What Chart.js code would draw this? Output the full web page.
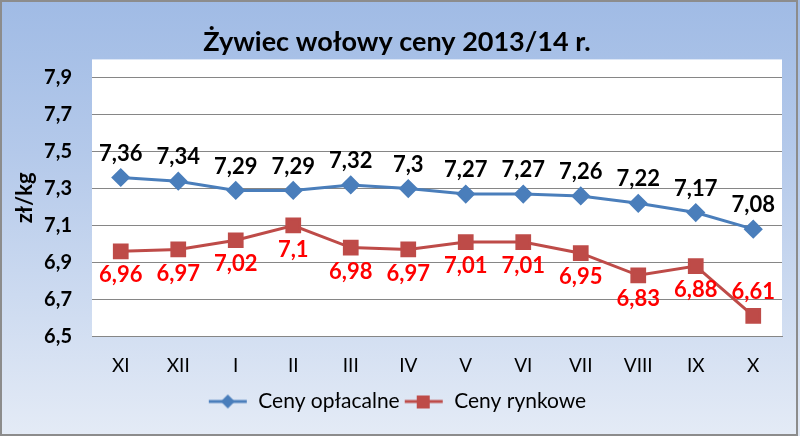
<!DOCTYPE html>
<html>
<head>
<meta charset="utf-8">
<script src="https://cdn.jsdelivr.net/npm/chart.js@4/dist/chart.umd.min.js"></script>
<style>
  body { margin: 0; }
  #wrap { width: 800px; height: 436px; }
</style>
</head>
<body>
<div id="wrap"><canvas id="myChart"></canvas></div>
<script>
// months of the 2013/14 season
const months = ['XI', 'XII', 'I', 'II', 'III', 'IV', 'V', 'VI', 'VII', 'VIII', 'IX', 'X'];
const cenyOplacalne = [7.36, 7.34, 7.29, 7.29, 7.32, 7.3, 7.27, 7.27, 7.26, 7.22, 7.17, 7.08];
const cenyRynkowe = [6.96, 6.97, 7.02, 7.1, 6.98, 6.97, 7.01, 7.01, 6.95, 6.83, 6.88, 6.61];
const yTicks = [6.5, 6.7, 6.9, 7.1, 7.3, 7.5, 7.7, 7.9];

const FONT = 'Lato, "Open Sans", sans-serif';
const BLUE = '#4a7ebb';
const RED = '#be4b48';

function fmt(v) {
    return String(v).replace('.', ',');
}

// small line + marker icon for the legend, like in Excel
function legendIcon(color, shape) {
    const c = document.createElement('canvas');
    c.width = 40;
    c.height = 16;
    const ctx = c.getContext('2d');
    ctx.strokeStyle = color;
    ctx.lineWidth = 3;
    ctx.beginPath();
    ctx.moveTo(1, 8);
    ctx.lineTo(39, 8);
    ctx.stroke();
    ctx.fillStyle = color;
    if (shape === 'diamond') {
        ctx.beginPath();
        ctx.moveTo(20, 1);
        ctx.lineTo(27, 8);
        ctx.lineTo(20, 15);
        ctx.lineTo(13, 8);
        ctx.closePath();
        ctx.fill();
    } else {
        ctx.fillRect(13, 2, 13, 13);
    }
    return c;
}

const background = {
    id: 'background',
    beforeDraw(chart) {
        const ctx = chart.ctx;
        const w = chart.width, h = chart.height;
        const g = ctx.createLinearGradient(0, 0, 0, h);
        g.addColorStop(0, '#a0bbe5');
        g.addColorStop(0.35, '#b4c9ea');
        g.addColorStop(1, '#e4ebf6');
        ctx.save();
        ctx.fillStyle = g;
        ctx.fillRect(0, 0, w, h);
        ctx.strokeStyle = '#8c8c8c';
        ctx.lineWidth = 2;
        ctx.strokeRect(1, 1, w - 4, h - 2);
        const a = chart.chartArea;
        ctx.fillStyle = '#ffffff';
        ctx.fillRect(a.left, a.top, a.right - a.left, a.bottom - a.top);
        ctx.restore();
    }
};

const pointLabels = {
    id: 'pointLabels',
    afterDatasetsDraw(chart) {
        const ctx = chart.ctx;
        ctx.save();
        ctx.font = 'bold 22px ' + FONT;
        ctx.textAlign = 'center';
        ctx.textBaseline = 'middle';
        chart.data.datasets.forEach((ds, i) => {
            const meta = chart.getDatasetMeta(i);
            ctx.fillStyle = ds.labelColor;
            meta.data.forEach((pt, j) => {
                let y = pt.y + ds.labelOffset;
                // no room under the last point -> put it above
                if (y > chart.chartArea.bottom - 14) {
                    y = pt.y - 24;
                }
                ctx.fillText(fmt(ds.data[j]), pt.x, y);
            });
        });
        ctx.restore();
    }
};

const chartElement = document.getElementById('myChart').getContext('2d');
window.myChart = new Chart(chartElement, {
    type: 'line',
    data: {
        labels: months,
        datasets: [
            {
                label: 'Ceny opłacalne',
                data: cenyOplacalne,
                borderColor: BLUE,
                backgroundColor: BLUE,
                borderWidth: 3,
                pointStyle: 'rectRot',
                pointRadius: 7.5,
                pointHoverRadius: 7.5,
                labelColor: '#000000',
                labelOffset: -24,
                icon: legendIcon(BLUE, 'diamond')
            },
            {
                label: 'Ceny rynkowe',
                data: cenyRynkowe,
                borderColor: RED,
                backgroundColor: RED,
                borderWidth: 3,
                pointStyle: 'rect',
                pointRadius: 9,
                pointHoverRadius: 9,
                labelColor: '#ff0000',
                labelOffset: 24,
                icon: legendIcon(RED, 'square')
            }
        ]
    },
    options: {
        responsive: true,
        maintainAspectRatio: false,
        animation: false,
        layout: {
            padding: { left: 12, right: 18, top: 4, bottom: 14 }
        },
        scales: {
            x: {
                offset: true,
                grid: { display: false },
                border: { color: '#868686', width: 1 },
                ticks: {
                    color: '#000000',
                    font: { family: FONT, size: 19 },
                    padding: 10
                }
            },
            y: {
                min: 6.5,
                max: 8.0,
                afterBuildTicks(axis) {
                    axis.ticks = yTicks.map((v) => ({ value: v }));
                },
                afterFit(axis) {
                    axis.width = 80;
                },
                grid: { color: '#868686', lineWidth: 1, drawTicks: false },
                border: { display: false },
                ticks: {
                    color: '#000000',
                    font: { family: FONT, size: 20, weight: 'bold' },
                    padding: 20,
                    callback: (v) => fmt(Math.round(v * 10) / 10)
                },
                title: {
                    display: true,
                    text: 'zł/kg',
                    color: '#000000',
                    font: { family: FONT, size: 22, weight: 'bold' },
                    padding: { top: 0, bottom: 4 }
                }
            }
        },
        plugins: {
            title: {
                display: true,
                text: 'Żywiec wołowy ceny 2013/14 r.',
                color: '#000000',
                font: { family: FONT, size: 27, weight: 'bold' },
                padding: { top: 22, bottom: 1 }
            },
            legend: {
                position: 'bottom',
                labels: {
                    color: '#000000',
                    font: { family: FONT, size: 21 },
                    usePointStyle: true,
                    pointStyleWidth: 40,
                    padding: 4,
                    generateLabels(chart) {
                        const items = Chart.defaults.plugins.legend.labels.generateLabels(chart);
                        items.forEach((item) => {
                            item.pointStyle = chart.data.datasets[item.datasetIndex].icon;
                        });
                        return items;
                    }
                }
            },
            tooltip: { enabled: false }
        }
    },
    plugins: [background, pointLabels]
});
</script>
</body>
</html>
